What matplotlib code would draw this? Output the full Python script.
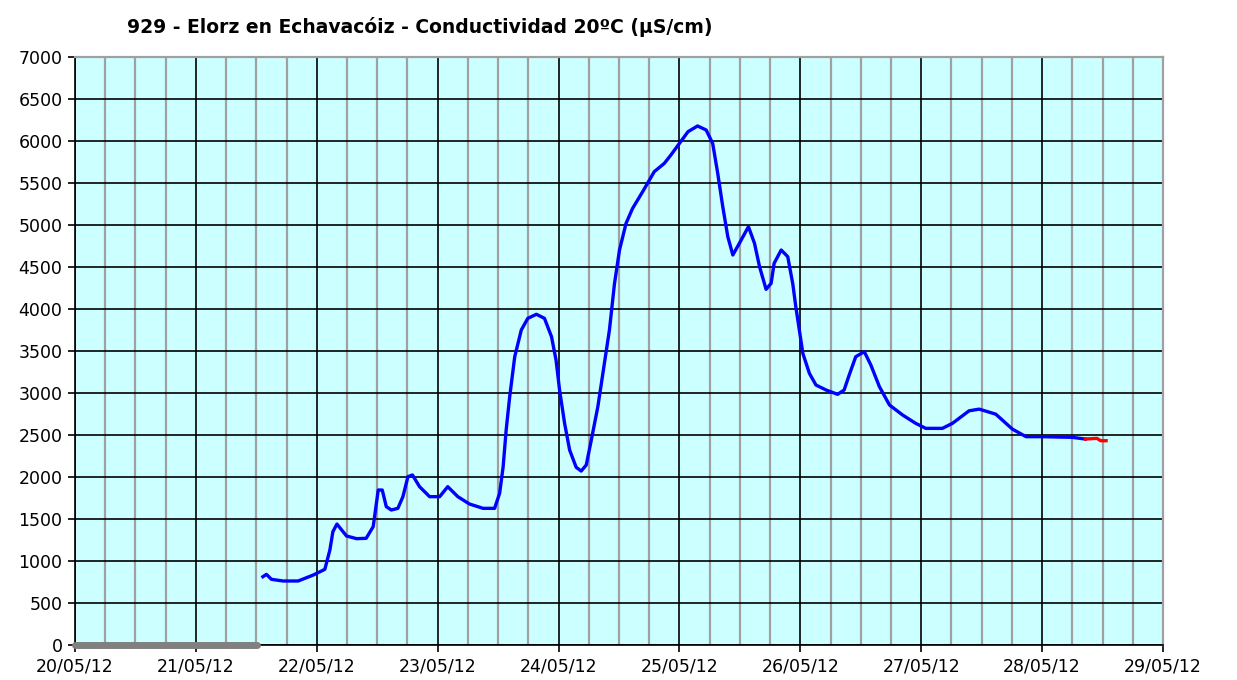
import matplotlib.pyplot as plt
from matplotlib.ticker import MultipleLocator

# horas desde 20/05/12 00:00 y conductividad (uS/cm)
horas = [37.3, 38.0, 39.0, 41.3, 44.3, 47.3, 49.6, 50.6, 51.2, 52.0,
         53.9, 55.9, 57.8, 59.2, 60.2, 61.0, 61.8, 62.8, 64.1, 65.1,
         66.1, 67.0, 68.4, 70.4, 72.4, 74.0, 76.0, 78.3, 81.0, 83.3,
         84.3, 85.0, 85.6, 86.3, 87.3, 88.6, 89.9, 91.6, 93.2, 94.6,
         95.5, 96.2, 97.2, 98.2, 99.5, 100.5, 101.5, 102.5, 103.8, 105.1,
         106.1, 107.1, 108.1, 109.4, 110.7, 112.7, 115.0, 117.0, 118.3, 120.0,
         121.7, 123.6, 125.3, 126.6, 127.6, 128.6, 129.6, 130.6, 131.9, 133.7,
         134.9, 135.9, 137.2, 138.2, 138.8, 140.2, 141.5, 142.5, 143.1, 143.8,
         144.5, 145.8, 147.1, 149.1, 151.4, 152.7, 153.7, 155.0, 156.7, 158.0,
         159.7, 161.7, 164.3, 166.9, 168.9, 172.2, 174.2, 177.5, 179.5, 182.8,
         186.1, 188.8, 192.0, 198.0, 200.6]
cond = [813, 841, 782, 762, 762, 833, 901, 1131, 1349, 1440,
        1298, 1266, 1270, 1409, 1845, 1845, 1647, 1607, 1627, 1766,
        2004, 2024, 1885, 1766, 1766, 1885, 1766, 1679, 1627, 1627,
        1806, 2123, 2560, 2956, 3432, 3750, 3889, 3937, 3889, 3671,
        3393, 3036, 2639, 2321, 2115, 2071, 2143, 2440, 2837, 3353,
        3750, 4300, 4702, 5020, 5198, 5397, 5635, 5734, 5833, 5972,
        6111, 6179, 6131, 5972, 5615, 5218, 4861, 4643, 4782, 4980,
        4782, 4504, 4234, 4306, 4544, 4702, 4623, 4300, 4028, 3750,
        3472, 3234, 3095, 3036, 2984, 3036, 3214, 3432, 3492, 3333,
        3075, 2857, 2738, 2639, 2579, 2579, 2639, 2788, 2808, 2748,
        2570, 2480, 2480, 2472, 2452]

# tramo final (dato provisional, en rojo)
horas_rojo = [200.6, 202.9, 203.6, 204.7]
cond_rojo = [2452, 2460, 2432, 2432]

# periodo sin datos
horas_sin = [0, 36.2]
cond_sin = [0, 0]

fechas = ["20/05/12", "21/05/12", "22/05/12", "23/05/12", "24/05/12",
          "25/05/12", "26/05/12", "27/05/12", "28/05/12", "29/05/12"]

fig = plt.figure(figsize=(12.37, 6.8), dpi=100)
ax = fig.add_axes([75/1237, 1-645/680, 1088/1237, 588/680])
ax.set_facecolor('#ccffff')

ax.set_xlim(0, 216)
ax.set_ylim(0, 7000)
ax.xaxis.set_minor_locator(MultipleLocator(6))
ax.yaxis.set_major_locator(MultipleLocator(500))
ax.set_xticks([24*i for i in range(len(fechas))])
ax.set_xticklabels(fechas)

ax.grid(which='minor', axis='x', color='#a0a0a0', lw=1.6, zorder=0)
ax.grid(which='major', axis='x', color='black', lw=1.2, zorder=1)
ax.grid(which='major', axis='y', color='black', lw=1.2, zorder=1)
ax.set_axisbelow(True)

for s in ['top', 'right']:
    ax.spines[s].set_color('#a0a0a0')
    ax.spines[s].set_linewidth(1.6)
for s in ['left', 'bottom']:
    ax.spines[s].set_color('black')
    ax.spines[s].set_linewidth(1.2)

ax.tick_params(which='major', length=5, width=1.2, color='black', labelsize=12.5, pad=4)
ax.tick_params(which='minor', length=0)

ax.plot(horas_sin, cond_sin, color='#808080', lw=5, solid_capstyle='round', clip_on=False, zorder=3)
ax.plot(horas, cond, color='#0000ff', lw=2.4, solid_joinstyle='round', zorder=4)
ax.plot(horas_rojo, cond_rojo, color='#ff0000', lw=2.4, solid_joinstyle='round', zorder=4)

fig.text(127/1237, 1-27/680, "929 - Elorz en Echavacóiz - Conductividad 20ºC (µS/cm)",
         fontsize=13.5, fontweight='bold', ha='left', va='center')

fig.savefig("out.png")
